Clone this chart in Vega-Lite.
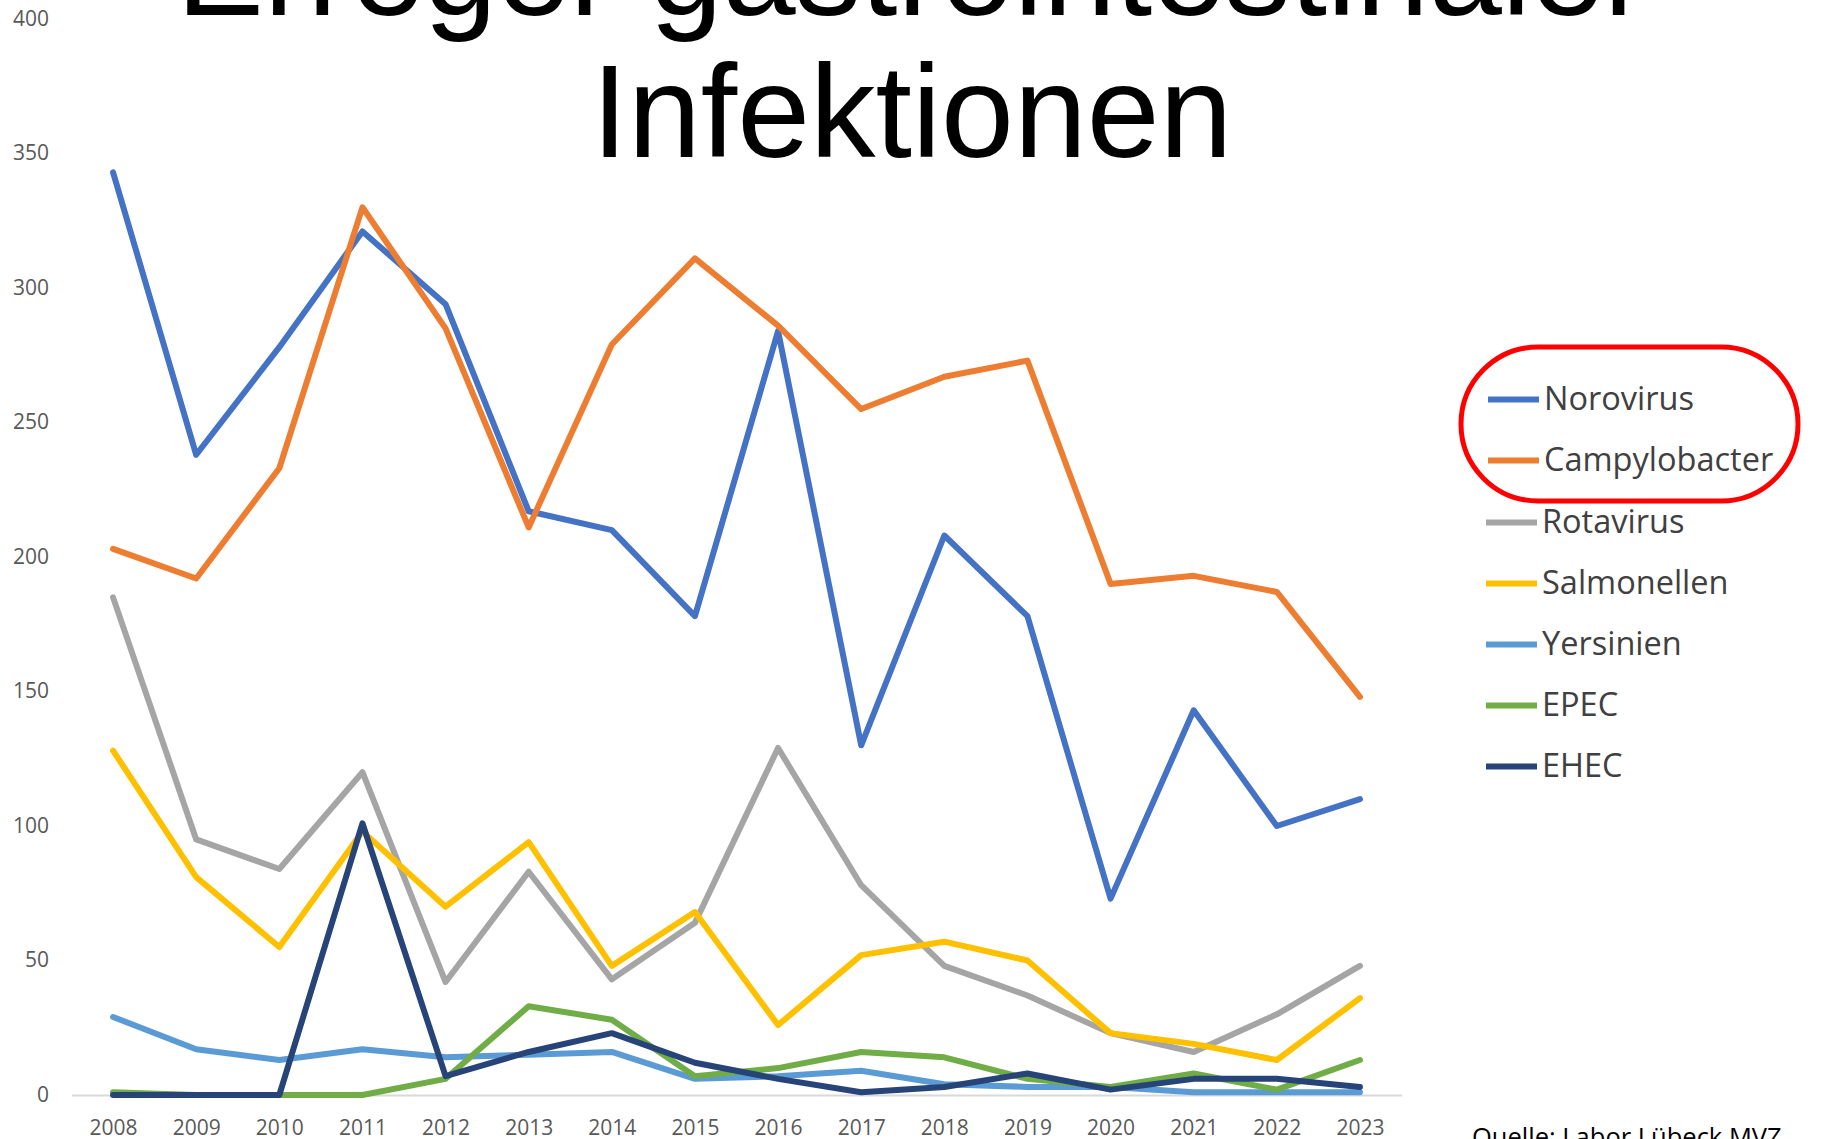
{
  "$schema": "https://vega.github.io/schema/vega-lite/v6.json",
  "autosize": {"type": "none"},
  "width": 1330,
  "height": 1076,
  "padding": {"left": 71.5, "top": 19, "right": 422.5, "bottom": 44},
  "background": "white",
  "title": {
    "text": ["Erreger gastrointestinaler", "Infektionen"],
    "orient": "top",
    "anchor": "middle",
    "frame": "group",
    "font": "Liberation Sans",
    "fontSize": 131,
    "fontWeight": "normal",
    "color": "#000000",
    "lineHeight": 142,
    "baseline": "alphabetic",
    "offset": 0,
    "dx": 175.5,
    "dy": 279.5
  },
  "data": {
    "values": [
      {"year": "2008", "series": "Norovirus", "value": 343},
      {"year": "2009", "series": "Norovirus", "value": 238},
      {"year": "2010", "series": "Norovirus", "value": 278},
      {"year": "2011", "series": "Norovirus", "value": 321},
      {"year": "2012", "series": "Norovirus", "value": 294},
      {"year": "2013", "series": "Norovirus", "value": 217},
      {"year": "2014", "series": "Norovirus", "value": 210},
      {"year": "2015", "series": "Norovirus", "value": 178},
      {"year": "2016", "series": "Norovirus", "value": 284},
      {"year": "2017", "series": "Norovirus", "value": 130},
      {"year": "2018", "series": "Norovirus", "value": 208},
      {"year": "2019", "series": "Norovirus", "value": 178},
      {"year": "2020", "series": "Norovirus", "value": 73},
      {"year": "2021", "series": "Norovirus", "value": 143},
      {"year": "2022", "series": "Norovirus", "value": 100},
      {"year": "2023", "series": "Norovirus", "value": 110},
      {"year": "2008", "series": "Campylobacter", "value": 203},
      {"year": "2009", "series": "Campylobacter", "value": 192},
      {"year": "2010", "series": "Campylobacter", "value": 233},
      {"year": "2011", "series": "Campylobacter", "value": 330},
      {"year": "2012", "series": "Campylobacter", "value": 285},
      {"year": "2013", "series": "Campylobacter", "value": 211},
      {"year": "2014", "series": "Campylobacter", "value": 279},
      {"year": "2015", "series": "Campylobacter", "value": 311},
      {"year": "2016", "series": "Campylobacter", "value": 286},
      {"year": "2017", "series": "Campylobacter", "value": 255},
      {"year": "2018", "series": "Campylobacter", "value": 267},
      {"year": "2019", "series": "Campylobacter", "value": 273},
      {"year": "2020", "series": "Campylobacter", "value": 190},
      {"year": "2021", "series": "Campylobacter", "value": 193},
      {"year": "2022", "series": "Campylobacter", "value": 187},
      {"year": "2023", "series": "Campylobacter", "value": 148},
      {"year": "2008", "series": "Rotavirus", "value": 185},
      {"year": "2009", "series": "Rotavirus", "value": 95},
      {"year": "2010", "series": "Rotavirus", "value": 84},
      {"year": "2011", "series": "Rotavirus", "value": 120},
      {"year": "2012", "series": "Rotavirus", "value": 42},
      {"year": "2013", "series": "Rotavirus", "value": 83},
      {"year": "2014", "series": "Rotavirus", "value": 43},
      {"year": "2015", "series": "Rotavirus", "value": 64},
      {"year": "2016", "series": "Rotavirus", "value": 129},
      {"year": "2017", "series": "Rotavirus", "value": 78},
      {"year": "2018", "series": "Rotavirus", "value": 48},
      {"year": "2019", "series": "Rotavirus", "value": 37},
      {"year": "2020", "series": "Rotavirus", "value": 23},
      {"year": "2021", "series": "Rotavirus", "value": 16},
      {"year": "2022", "series": "Rotavirus", "value": 30},
      {"year": "2023", "series": "Rotavirus", "value": 48},
      {"year": "2008", "series": "Salmonellen", "value": 128},
      {"year": "2009", "series": "Salmonellen", "value": 81},
      {"year": "2010", "series": "Salmonellen", "value": 55},
      {"year": "2011", "series": "Salmonellen", "value": 98},
      {"year": "2012", "series": "Salmonellen", "value": 70},
      {"year": "2013", "series": "Salmonellen", "value": 94},
      {"year": "2014", "series": "Salmonellen", "value": 48},
      {"year": "2015", "series": "Salmonellen", "value": 68},
      {"year": "2016", "series": "Salmonellen", "value": 26},
      {"year": "2017", "series": "Salmonellen", "value": 52},
      {"year": "2018", "series": "Salmonellen", "value": 57},
      {"year": "2019", "series": "Salmonellen", "value": 50},
      {"year": "2020", "series": "Salmonellen", "value": 23},
      {"year": "2021", "series": "Salmonellen", "value": 19},
      {"year": "2022", "series": "Salmonellen", "value": 13},
      {"year": "2023", "series": "Salmonellen", "value": 36},
      {"year": "2008", "series": "Yersinien", "value": 29},
      {"year": "2009", "series": "Yersinien", "value": 17},
      {"year": "2010", "series": "Yersinien", "value": 13},
      {"year": "2011", "series": "Yersinien", "value": 17},
      {"year": "2012", "series": "Yersinien", "value": 14},
      {"year": "2013", "series": "Yersinien", "value": 15},
      {"year": "2014", "series": "Yersinien", "value": 16},
      {"year": "2015", "series": "Yersinien", "value": 6},
      {"year": "2016", "series": "Yersinien", "value": 7},
      {"year": "2017", "series": "Yersinien", "value": 9},
      {"year": "2018", "series": "Yersinien", "value": 4},
      {"year": "2019", "series": "Yersinien", "value": 3},
      {"year": "2020", "series": "Yersinien", "value": 3},
      {"year": "2021", "series": "Yersinien", "value": 1},
      {"year": "2022", "series": "Yersinien", "value": 1},
      {"year": "2023", "series": "Yersinien", "value": 1},
      {"year": "2008", "series": "EPEC", "value": 1},
      {"year": "2009", "series": "EPEC", "value": 0},
      {"year": "2010", "series": "EPEC", "value": 0},
      {"year": "2011", "series": "EPEC", "value": 0},
      {"year": "2012", "series": "EPEC", "value": 6},
      {"year": "2013", "series": "EPEC", "value": 33},
      {"year": "2014", "series": "EPEC", "value": 28},
      {"year": "2015", "series": "EPEC", "value": 7},
      {"year": "2016", "series": "EPEC", "value": 10},
      {"year": "2017", "series": "EPEC", "value": 16},
      {"year": "2018", "series": "EPEC", "value": 14},
      {"year": "2019", "series": "EPEC", "value": 6},
      {"year": "2020", "series": "EPEC", "value": 3},
      {"year": "2021", "series": "EPEC", "value": 8},
      {"year": "2022", "series": "EPEC", "value": 2},
      {"year": "2023", "series": "EPEC", "value": 13},
      {"year": "2008", "series": "EHEC", "value": 0},
      {"year": "2009", "series": "EHEC", "value": 0},
      {"year": "2010", "series": "EHEC", "value": 0},
      {"year": "2011", "series": "EHEC", "value": 101},
      {"year": "2012", "series": "EHEC", "value": 7},
      {"year": "2013", "series": "EHEC", "value": 16},
      {"year": "2014", "series": "EHEC", "value": 23},
      {"year": "2015", "series": "EHEC", "value": 12},
      {"year": "2016", "series": "EHEC", "value": 6},
      {"year": "2017", "series": "EHEC", "value": 1},
      {"year": "2018", "series": "EHEC", "value": 3},
      {"year": "2019", "series": "EHEC", "value": 8},
      {"year": "2020", "series": "EHEC", "value": 2},
      {"year": "2021", "series": "EHEC", "value": 6},
      {"year": "2022", "series": "EHEC", "value": 6},
      {"year": "2023", "series": "EHEC", "value": 3}
    ]
  },
  "encoding": {
    "x": {
      "field": "year",
      "type": "ordinal",
      "scale": {"type": "point", "padding": 0.5},
      "axis": {
        "title": "Quelle: Labor Lübeck MVZ",
        "titleFont": "Open Sans",
        "titleFontSize": 25.5,
        "titleFontWeight": "normal",
        "titleColor": "#000000",
        "titleAlign": "left",
        "titleAnchor": "start",
        "titleBaseline": "alphabetic",
        "titleX": 1400,
        "titleY": 50,
        "labelAngle": 0,
        "labelFont": "Open Sans",
        "labelFontSize": 21,
        "labelColor": "#595959",
        "labelPadding": 22,
        "ticks": false,
        "tickSize": 0,
        "domain": true,
        "domainColor": "#D9D9D9",
        "domainWidth": 2,
        "grid": false
      }
    },
    "y": {
      "field": "value",
      "type": "quantitative",
      "scale": {"domain": [0, 400], "nice": false},
      "axis": {
        "title": null,
        "values": [0, 50, 100, 150, 200, 250, 300, 350, 400],
        "labelFont": "Open Sans",
        "labelFontSize": 21,
        "labelColor": "#595959",
        "labelPadding": 23,
        "ticks": false,
        "tickSize": 0,
        "domain": false,
        "grid": false
      }
    }
  },
  "layer": [
    {
      "transform": [{"filter": {"field": "series", "oneOf": ["Norovirus", "Campylobacter"]}}],
      "mark": {"type": "line", "strokeWidth": 6, "strokeJoin": "round", "strokeCap": "round"},
      "encoding": {
        "stroke": {
          "field": "series",
          "type": "nominal",
          "scale": {"domain": ["Norovirus", "Campylobacter"], "range": ["#4472C4", "#ED7D31"]},
          "legend": {
            "title": null,
            "orient": "none",
            "legendX": 1389.5,
            "legendY": 328,
            "padding": 24,
            "strokeColor": "#FF0000",
            "cornerRadius": 80,
            "symbolType": "stroke",
            "symbolSize": 2601,
            "symbolStrokeWidth": 6,
            "labelFont": "Open Sans",
            "labelFontSize": 32.5,
            "labelColor": "#404040",
            "labelOffset": 2,
            "rowPadding": 16,
            "labelLimit": 400
          }
        }
      }
    },
    {
      "transform": [{"filter": {"field": "series", "oneOf": ["Rotavirus", "Salmonellen", "Yersinien", "EPEC", "EHEC"]}}],
      "mark": {"type": "line", "strokeWidth": 6, "strokeJoin": "round", "strokeCap": "round"},
      "encoding": {
        "color": {
          "field": "series",
          "type": "nominal",
          "scale": {"domain": ["Rotavirus", "Salmonellen", "Yersinien", "EPEC", "EHEC"], "range": ["#A5A5A5", "#FFC000", "#5B9BD5", "#70AD47", "#264478"]},
          "legend": {
            "title": null,
            "orient": "none",
            "legendX": 1411.5,
            "legendY": 475,
            "padding": 0,
            "symbolType": "stroke",
            "symbolSize": 2601,
            "symbolStrokeWidth": 6,
            "labelFont": "Open Sans",
            "labelFontSize": 32.5,
            "labelColor": "#404040",
            "labelOffset": 2,
            "rowPadding": 16,
            "labelLimit": 400
          }
        }
      }
    }
  ],
  "config": {
    "view": {"stroke": null},
    "legend": {"strokeWidth": 5}
  }
}
